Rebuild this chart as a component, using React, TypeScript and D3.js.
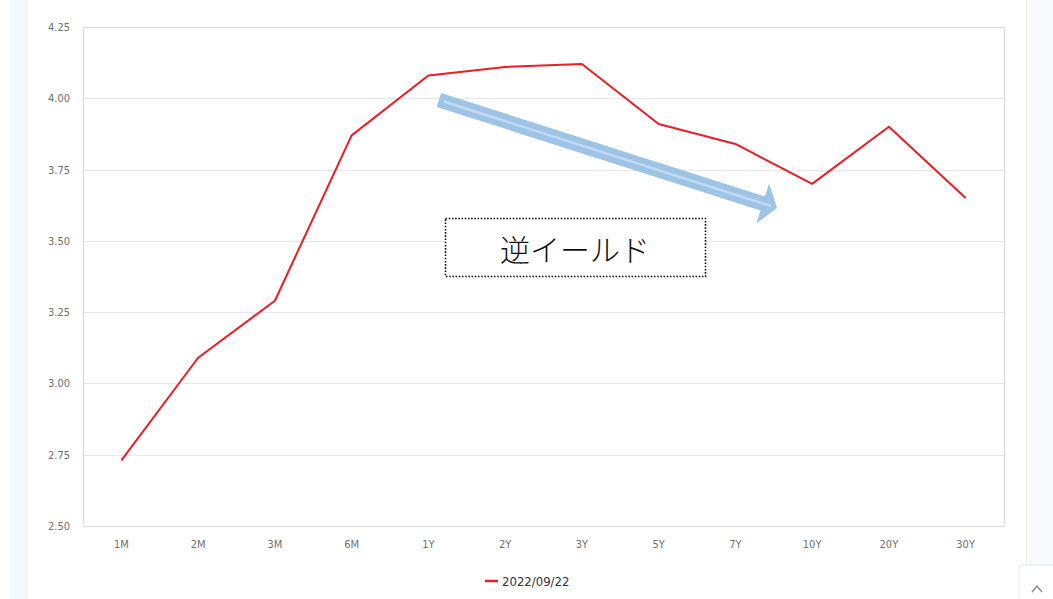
import React from "react";
import * as d3 from "d3";

const tenors = ["1M", "2M", "3M", "6M", "1Y", "2Y", "3Y", "5Y", "7Y", "10Y", "20Y", "30Y"];
const yields = [2.73, 3.09, 3.29, 3.87, 4.08, 4.11, 4.12, 3.91, 3.84, 3.70, 3.90, 3.65];
const yTicks = [2.5, 2.75, 3.0, 3.25, 3.5, 3.75, 4.0, 4.25];
const seriesName = "2022/09/22";
const annotation = "逆イールド";

const W = 1053;
const H = 599;
const plot = { left: 83, right: 1004, top: 27, bottom: 526 };

export default function App() {
  const x = d3
    .scalePoint<string>()
    .domain(tenors)
    .range([plot.left, plot.right])
    .padding(0.5);
  const y = d3.scaleLinear().domain([2.5, 4.25]).range([plot.bottom, plot.top]);

  const line = d3
    .line<number>()
    .x((_, i) => x(tenors[i]) as number)
    .y((d) => y(d));

  // arrow geometry for the downward trend marker
  const ax0 = 439, ay0 = 100, ax1 = 777, ay1 = 208;
  const ang = Math.atan2(ay1 - ay0, ax1 - ax0);
  const len = Math.hypot(ax1 - ax0, ay1 - ay0);
  const shaftHalf = 7.3;
  const headLen = 15;
  const headHalf = 21;
  const arrowPts: [number, number][] = [
    [0, -shaftHalf],
    [len - headLen, -shaftHalf],
    [len - headLen, -headHalf],
    [len, 0],
    [len - headLen, headHalf],
    [len - headLen, shaftHalf],
    [0, shaftHalf],
  ];
  const axisFont = "'DejaVu Sans Condensed', 'DejaVu Sans', sans-serif";

  return (
    <svg
      width={W}
      height={H}
      style={{ position: "fixed", left: 0, top: 0, background: "#fff" }}
    >
      {/* page side panels */}
      <rect x={10} y={0} width={16} height={H} fill="#f7f8fc" />
      <line x1={26.5} y1={0} x2={26.5} y2={H} stroke="#ececf0" />
      <line x1={1026.5} y1={0} x2={1026.5} y2={H} stroke="#ececf0" />
      <rect x={1029} y={0} width={24} height={H} fill="#f8f9fc" />
      <rect x={1019} y={565} width={40} height={40} rx={3} fill="#fff" stroke="#e6e6ea" />
      <path d="M1032,592 L1037,586 L1042,592" fill="none" stroke="#888" strokeWidth={1.4} />

      {/* grid */}
      {yTicks.map((t) => (
        <line
          key={t}
          x1={plot.left}
          x2={plot.right}
          y1={Math.round(y(t)) + 0.5}
          y2={Math.round(y(t)) + 0.5}
          stroke="#e8e8e8"
          strokeWidth={1.2}
        />
      ))}
      <rect
        x={plot.left + 0.5}
        y={plot.top + 0.5}
        width={plot.right - plot.left}
        height={plot.bottom - plot.top}
        fill="none"
        stroke="#dcdcdc"
        strokeWidth={1.2}
      />

      {/* y labels */}
      {yTicks.map((t) => (
        <text
          key={"l" + t}
          x={70}
          y={y(t) + 4}
          textAnchor="end"
          fontFamily={axisFont}
          fontSize={11}
          fill="#707070"
        >
          {t.toFixed(2)}
        </text>
      ))}

      {/* x labels */}
      {tenors.map((c) => (
        <text
          key={c}
          x={x(c)}
          y={548}
          textAnchor="middle"
          fontFamily={axisFont}
          fontSize={11}
          fill="#707070"
        >
          {c}
        </text>
      ))}

      {/* series */}
      <path d={line(yields) || ""} fill="none" stroke="#ee1c25" strokeWidth={2} strokeLinejoin="round" />

      {/* trend arrow */}
      <g transform={`translate(${ax0},${ay0}) rotate(${(ang * 180) / Math.PI})`}>
        <polygon points={arrowPts.map((p) => p.join(",")).join(" ")} fill="#9dc3e6" />
        <line x1={5} y1={0} x2={len - 6} y2={0} stroke="#c4daee" strokeWidth={2.5} />
      </g>

      {/* annotation box */}
      <rect
        x={445.5}
        y={218.5}
        width={260}
        height={58}
        fill="#fff"
        stroke="#111"
        strokeWidth={1.6}
        strokeDasharray="1.6,1.6"
      />
      <text
        x={575}
        y={261}
        textAnchor="middle"
        fontFamily="'Noto Sans CJK JP', sans-serif"
        fontWeight={300}
        fontSize={30}
        fill="#111"
      >
        {annotation}
      </text>

      {/* legend */}
      <line x1={485} x2={498} y1={581} y2={581} stroke="#ee1c25" strokeWidth={2.5} />
      <text x={502} y={586} fontFamily={axisFont} fontSize={13} fill="#333">
        {seriesName}
      </text>
    </svg>
  );
}
